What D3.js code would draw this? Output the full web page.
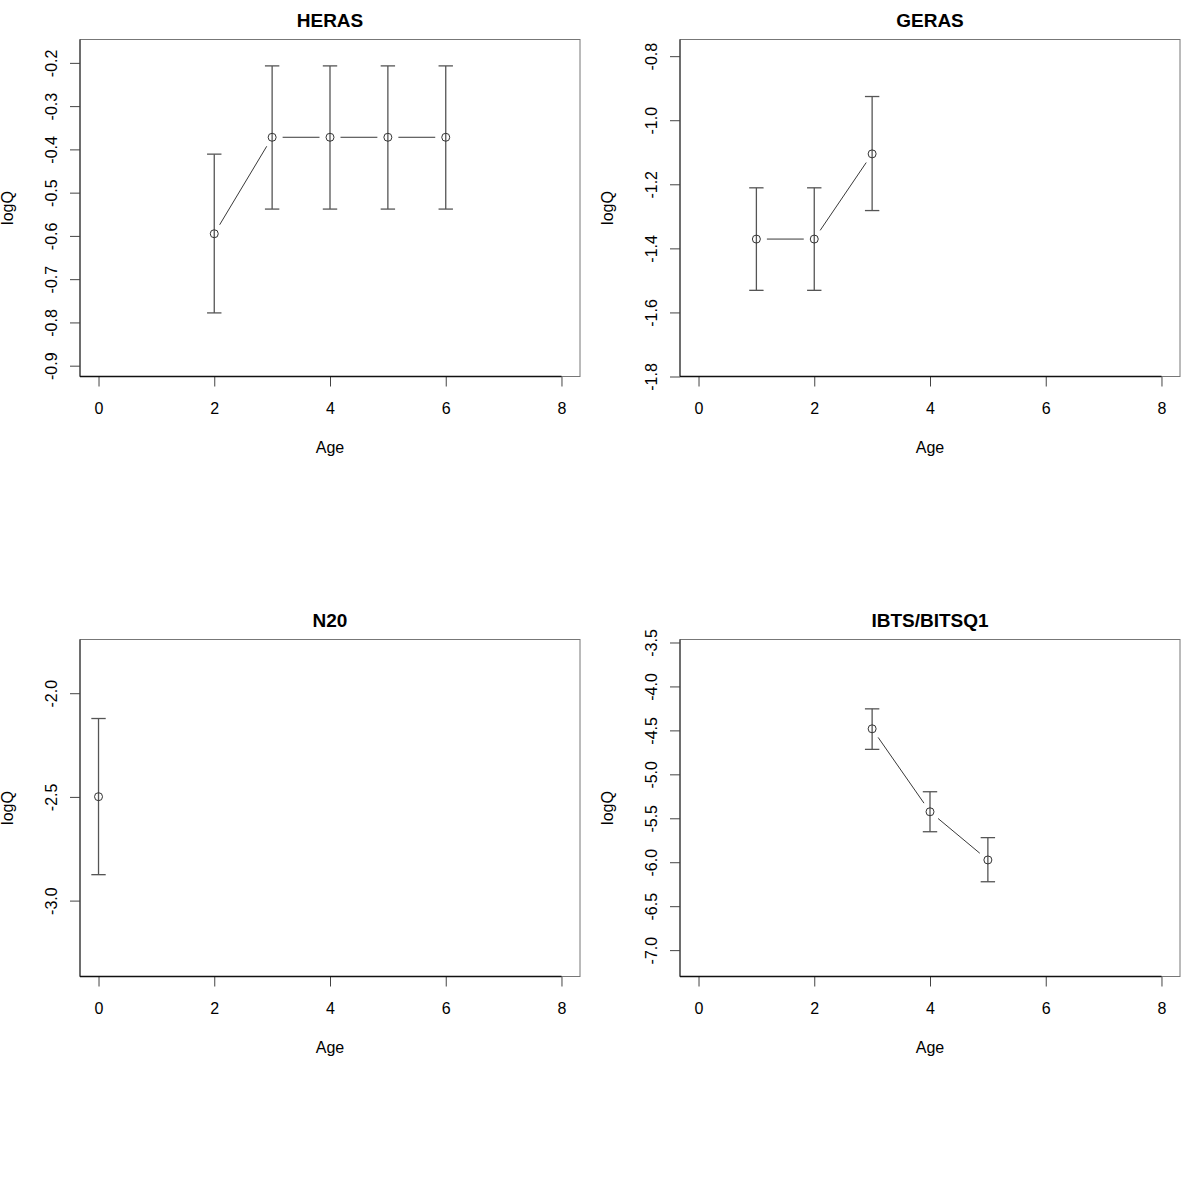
<!DOCTYPE html>
<html>
<head>
<meta charset="utf-8">
<title>logQ by age</title>
<script src="https://d3js.org/d3.v7.min.js"></script>
<style>
  body { margin: 0; background: #fff; }
  text { font-family: "Liberation Sans", Arial, sans-serif; }
</style>
</head>
<body>
<div id="chart"></div>
<script>
// fleet names, one per panel
let fleets = ["HERAS", "GERAS", "N20", "IBTS/BITSQ1"];

// ages and estimates
let herasAge = [2, 3, 4, 5, 6];
let herasLogQ = [-0.595, -0.372, -0.372, -0.372, -0.372];
let herasLow = [-0.778, -0.538, -0.538, -0.538, -0.538];
let herasHigh = [-0.411, -0.207, -0.207, -0.207, -0.207];

let gerasAge = [1, 2, 3];
let gerasLogQ = [-1.371, -1.371, -1.105];
let gerasLow = [-1.531, -1.531, -1.282];
let gerasHigh = [-1.211, -1.211, -0.926];

let n20Age = [0];
let n20LogQ = [-2.499];
let n20Low = [-2.875];
let n20High = [-2.122];

let ibtsAge = [3, 4, 5];
let ibtsLogQ = [-4.482, -5.426, -5.974];
let ibtsLow = [-4.716, -5.653, -6.222];
let ibtsHigh = [-4.255, -5.198, -5.72];

// axis limits and ticks
let xLim = [-0.32, 8.32];
let xTicks = [0, 2, 4, 6, 8];
let yLims = [[-0.925, -0.146], [-1.80, -0.748], [-3.366, -1.741], [-7.30, -3.466]];
let yTicks = [
  [-0.9, -0.8, -0.7, -0.6, -0.5, -0.4, -0.3, -0.2],
  [-1.8, -1.6, -1.4, -1.2, -1.0, -0.8],
  [-3.0, -2.5, -2.0],
  [-7.0, -6.5, -6.0, -5.5, -5.0, -4.5, -4.0, -3.5]
];

let panels = [
  {age: herasAge, q: herasLogQ, lo: herasLow, hi: herasHigh},
  {age: gerasAge, q: gerasLogQ, lo: gerasLow, hi: gerasHigh},
  {age: n20Age, q: n20LogQ, lo: n20Low, hi: n20High},
  {age: ibtsAge, q: ibtsLogQ, lo: ibtsLow, hi: ibtsHigh}
];

let svg = d3.select("#chart").append("svg")
  .attr("width", 1200)
  .attr("height", 1200);

let box = {left: 80, right: 580, top: 39.5, bottom: 376.5};
let gap = 10.5;

// R prints a plain hyphen as minus sign
let fmtY = function(d) { return d.toFixed(1).replace("\u2212", "-"); };

panels.forEach(function(p, i) {
  let col = i % 2, row = Math.floor(i / 2);
  let g = svg.append("g")
    .attr("transform", "translate(" + (col * 600) + "," + (row * 600) + ")");

  let x = d3.scaleLinear().domain(xLim).range([box.left, box.right]);
  let y = d3.scaleLinear().domain(yLims[i]).range([box.bottom, box.top]);

  // axes
  let xAxis = d3.axisBottom(x).tickValues(xTicks).tickSize(10).tickPadding(16)
    .tickFormat(d3.format("d"));
  let gx = g.append("g")
    .attr("transform", "translate(0," + box.bottom + ")")
    .call(xAxis);
  gx.select(".domain").remove();

  let yAxis = d3.axisLeft(y).tickValues(yTicks[i]).tickSize(10).tickFormat(fmtY);
  let gy = g.append("g")
    .attr("transform", "translate(" + box.left + ",0)")
    .call(yAxis);
  gy.select(".domain").remove();
  gy.selectAll(".tick text")
    .attr("x", 0).attr("dy", 0)
    .attr("transform", "translate(-23.5,0) rotate(-90)")
    .style("text-anchor", "middle");

  g.selectAll(".tick line").attr("stroke", "#444");
  g.selectAll(".tick text").attr("fill", "#000").attr("font-size", "16px")
    .attr("font-family", "Liberation Sans, Arial, sans-serif");

  // plot box
  g.append("rect")
    .attr("x", box.left).attr("y", box.top)
    .attr("width", box.right - box.left).attr("height", box.bottom - box.top)
    .attr("fill", "none").attr("stroke", "#777");
  g.append("line")
    .attr("x1", box.left).attr("x2", box.left)
    .attr("y1", box.top).attr("y2", box.bottom)
    .attr("stroke", "#222");
  g.append("line")
    .attr("x1", box.left).attr("x2", x(8))
    .attr("y1", box.bottom).attr("y2", box.bottom)
    .attr("stroke", "#111").attr("stroke-width", 1.5);

  // error bars
  p.age.forEach(function(a, j) {
    let cx = x(a);
    g.append("line")
      .attr("x1", cx).attr("x2", cx)
      .attr("y1", y(p.lo[j])).attr("y2", y(p.hi[j]))
      .attr("stroke", "#555").attr("stroke-width", 1.3);
    [p.lo[j], p.hi[j]].forEach(function(v) {
      g.append("line")
        .attr("x1", cx - 7.2).attr("x2", cx + 7.2)
        .attr("y1", y(v)).attr("y2", y(v))
        .attr("stroke", "#555").attr("stroke-width", 1.3);
    });
  });

  // lines between points, leaving a gap round each point (type "b")
  for (let j = 1; j < p.age.length; j++) {
    let x0 = x(p.age[j - 1]), y0 = y(p.q[j - 1]);
    let x1 = x(p.age[j]), y1 = y(p.q[j]);
    let len = Math.hypot(x1 - x0, y1 - y0);
    if (len <= 2 * gap) continue;
    let ux = (x1 - x0) / len, uy = (y1 - y0) / len;
    g.append("line")
      .attr("x1", x0 + ux * gap).attr("y1", y0 + uy * gap)
      .attr("x2", x1 - ux * gap).attr("y2", y1 - uy * gap)
      .attr("stroke", "#222").attr("stroke-width", 0.9);
  }

  g.selectAll("circle.pt")
    .data(p.age)
    .enter()
    .append("circle")
    .attr("class", "pt")
    .attr("cx", function(d) { return x(d); })
    .attr("cy", function(d, j) { return y(p.q[j]); })
    .attr("r", 4)
    .attr("fill", "none")
    .attr("stroke", "#333")
    .attr("stroke-width", 1);

  // labels
  g.append("text")
    .attr("x", (box.left + box.right) / 2).attr("y", 27)
    .attr("text-anchor", "middle")
    .attr("font-size", "19px").attr("font-weight", "bold")
    .text(fleets[i]);

  g.append("text")
    .attr("x", (box.left + box.right) / 2).attr("y", 453)
    .attr("text-anchor", "middle")
    .attr("font-size", "16px")
    .text("Age");

  g.append("text")
    .attr("transform", "translate(13," + ((box.top + box.bottom) / 2) + ") rotate(-90)")
    .attr("text-anchor", "middle")
    .attr("font-size", "16px")
    .text("logQ");
});
</script>
</body>
</html>
